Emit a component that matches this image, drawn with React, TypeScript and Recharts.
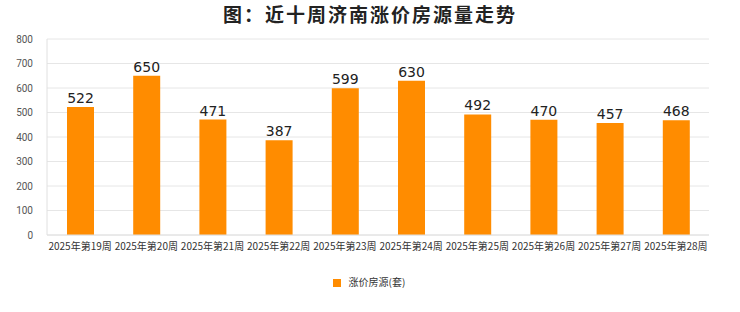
import { Bar, BarChart, CartesianGrid, LabelList, Legend, XAxis, YAxis } from 'recharts'

const weeks = [
  '2025年第19周',
  '2025年第20周',
  '2025年第21周',
  '2025年第22周',
  '2025年第23周',
  '2025年第24周',
  '2025年第25周',
  '2025年第26周',
  '2025年第27周',
  '2025年第28周',
]
const risingListings = [522, 650, 471, 387, 599, 630, 492, 470, 457, 468]
const yTicks = [0, 100, 200, 300, 400, 500, 600, 700, 800]

const data = weeks.map((week, i) => ({ week, value: risingListings[i] }))

const cjk = '"Noto Sans CJK SC", "Noto Sans", sans-serif'

export default function App() {
  return (
    <div style={{ position: 'relative', width: 740, height: 312, background: '#fff', fontFamily: cjk }}>
      <style>{'body{margin:0}'}</style>
      <div
        style={{
          position: 'absolute',
          top: 0,
          left: 0,
          width: 740,
          textAlign: 'center',
          fontSize: 19,
          fontWeight: 'bold',
          color: '#222',
          letterSpacing: 2,
          zIndex: 1,
        }}
      >
        图：近十周济南涨价房源量走势
      </div>
      <BarChart
        width={740}
        height={312}
        data={data}
        margin={{ top: 39, right: 31, bottom: 40, left: 7 }}
      >
        <CartesianGrid vertical={false} stroke='#e6e6e6' />
        <XAxis
          dataKey='week'
          interval={0}
          tickLine={false}
          axisLine={{ stroke: '#e0e0e0' }}
          tick={{ fontSize: 10, fill: '#333', fontFamily: cjk }}
          tickMargin={2}
          height={22}
        />
        <YAxis
          ticks={yTicks}
          domain={[0, 800]}
          width={40}
          tickLine={false}
          axisLine={{ stroke: '#e0e0e0' }}
          tick={{ fontSize: 10, fill: '#555', fontFamily: 'Roboto, sans-serif' }}
          tickMargin={8}
        />
        <YAxis
          yAxisId='right'
          orientation='right'
          domain={[0, 800]}
          width={0}
          tick={false}
          tickLine={false}
          axisLine={{ stroke: '#e0e0e0' }}
        />
        <Legend
          verticalAlign='bottom'
          iconType='square'
          iconSize={8}
          wrapperStyle={{ fontSize: 10, color: '#333', bottom: 23, left: 4, width: 740 }}
          formatter={() => <span style={{ color: '#333', marginLeft: 4 }}>涨价房源(套)</span>}
        />
        <Bar dataKey='value' name='涨价房源(套)' fill='#ff8c00' barSize={27} isAnimationActive={false}>
          <LabelList
            dataKey='value'
            position='top'
            offset={4}
            style={{ fontSize: 14, fill: '#222', fontFamily: '"DejaVu Sans", sans-serif' }}
          />
        </Bar>
      </BarChart>
    </div>
  )
}
